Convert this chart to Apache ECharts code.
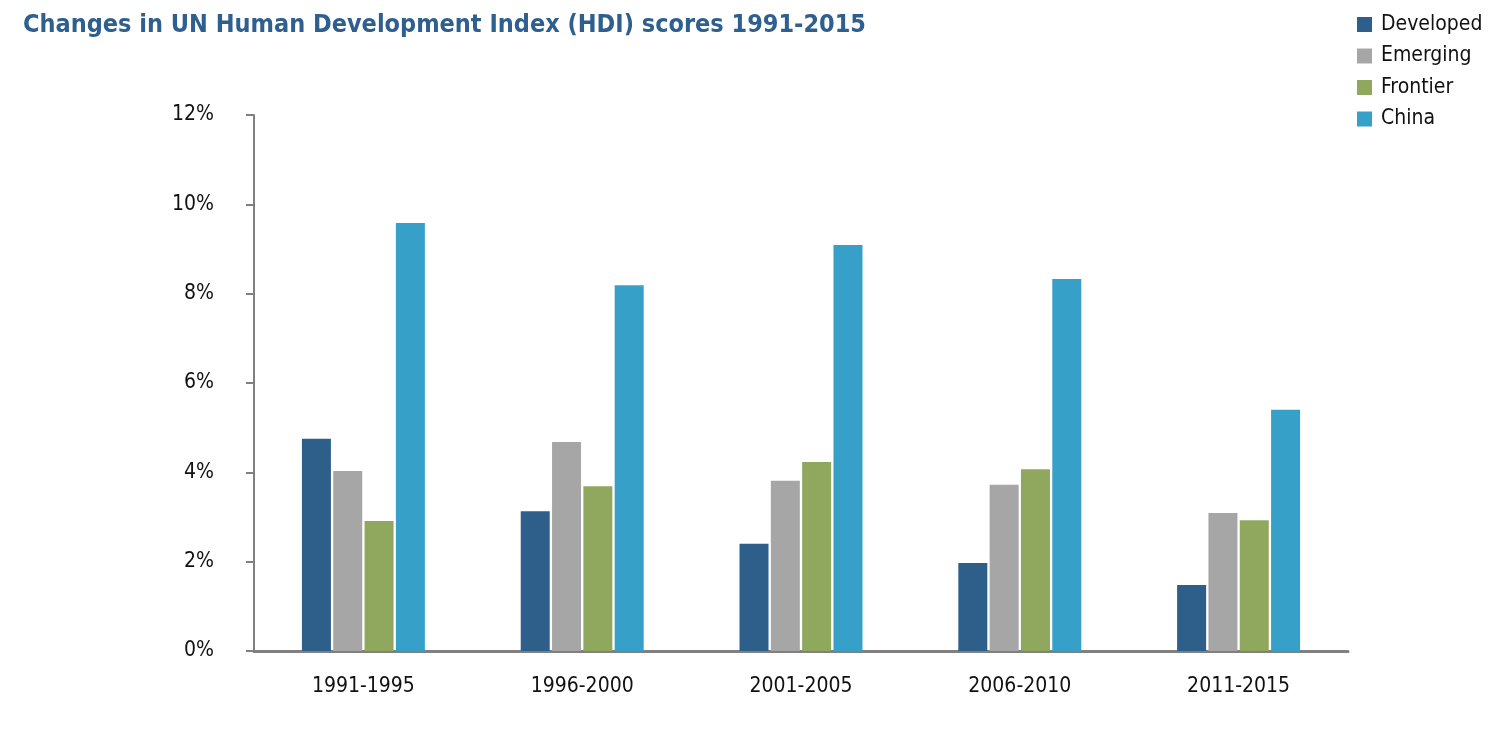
<!DOCTYPE html>
<html><head><meta charset="utf-8">
<script src="https://cdn.jsdelivr.net/npm/echarts@6/dist/echarts.min.js"></script>
<style>html,body{margin:0;padding:0;background:#fff}#c{width:1489px;height:730px}</style>
</head><body><div id="c"></div>
<script>
const categories = ['1991-1995','1996-2000','2001-2005','2006-2010','2011-2015'];
const developed = [4.75, 3.13, 2.40, 1.97, 1.48];
const emerging  = [4.03, 4.68, 3.81, 3.72, 3.09];
const frontier  = [2.91, 3.69, 4.23, 4.07, 2.93];
const china     = [9.58, 8.19, 9.09, 8.33, 5.40];
const yTicks = [0, 2, 4, 6, 8, 10, 12];

const FONT = '"Liberation Sans Narrow","DejaVu Sans Condensed",sans-serif';
const chart = echarts.init(document.getElementById('c'));
const mk = (name, data, color) => ({
  name, type: 'bar', data, barWidth: 29, barGap: '8%',
  itemStyle: { color }, animation: false
});
chart.setOption({
  animation: false,
  title: {
    text: 'Changes in UN Human Development Index (HDI) scores 1991-2015',
    left: 18, top: 8,
    textStyle: { fontFamily: FONT, fontWeight: 'bold', fontSize: 25, color: '#2e5f8f' }
  },
  legend: {
    orient: 'vertical', left: 1352, top: 9,
    itemWidth: 15, itemHeight: 15, itemGap: 10.5,
    icon: 'rect',
    textStyle: { fontFamily: FONT, fontSize: 21, color: '#111', padding: [0,0,0,4] },
    data: ['Developed','Emerging','Frontier','China']
  },
  grid: { left: 254, right: 141, top: 115, bottom: 79, containLabel: false },
  xAxis: {
    type: 'category', data: categories,
    axisLine: { lineStyle: { color: '#808080', width: 3 } },
    axisTick: { show: false },
    axisLabel: { fontFamily: FONT, fontSize: 21, color: '#111', margin: 25 }
  },
  yAxis: {
    type: 'value', min: 0, max: 12, interval: 2,
    axisLine: { show: true, lineStyle: { color: '#808080', width: 2 } },
    axisTick: { show: true, length: 8, lineStyle: { color: '#808080', width: 2 } },
    splitLine: { show: false },
    axisLabel: { fontFamily: FONT, fontSize: 21, color: '#111', margin: 40,
      formatter: v => yTicks.includes(v) ? v + '%' : '' }
  },
  series: [
    mk('Developed', developed, '#2d5f8a'),
    mk('Emerging', emerging, '#a6a6a6'),
    mk('Frontier', frontier, '#8fa85e'),
    mk('China', china, '#37a0c8')
  ]
});
</script></body></html>
